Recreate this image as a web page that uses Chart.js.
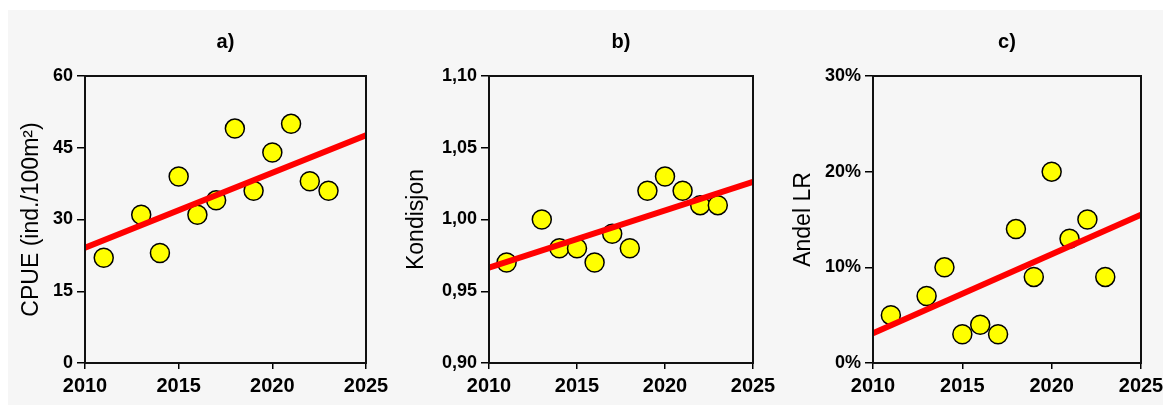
<!DOCTYPE html>
<html>
<head>
<meta charset="utf-8">
<script src="https://cdn.jsdelivr.net/npm/chart.js@4"></script>
<style>
    body { margin: 0; background: #ffffff; }
    #panel { position: absolute; left: 8px; top: 10px; width: 1155px; height: 395px; background: #f6f6f6; }
    #panel canvas { position: absolute; left: 0; top: 0; }
</style>
</head>
<body>
<div id="panel">
    <canvas id="graficaA" width="1155" height="395"></canvas>
    <canvas id="graficaB" width="1155" height="395"></canvas>
    <canvas id="graficaC" width="1155" height="395"></canvas>
</div>
<script>
const years = [2011, 2013, 2014, 2015, 2016, 2017, 2018, 2019, 2020, 2021, 2022, 2023];
const cpue = [22, 31, 23, 39, 31, 34, 49, 36, 44, 50, 38, 36];
const kondisjon = [0.97, 1.00, 0.98, 0.98, 0.97, 0.99, 0.98, 1.02, 1.03, 1.02, 1.01, 1.01];
const andelLR = [5, 7, 10, 3, 4, 3, 14, 9, 20, 13, 15, 9];

const trendYears = [2010, 2025];
const cpueTrend = [24.1, 47.6];
const kondisjonTrend = [0.9665, 1.0263];
const andelTrend = [3.1, 15.5];

const xTicks = [2010, 2015, 2020, 2025];

const fontFamily = "'Liberation Sans', Arial, sans-serif";

// draws the a), b), c) title and the box around the plot
const boxPlugin = {
    id: 'boxPlugin',
    afterDraw(chart, args, opts) {
        const ctx = chart.ctx;
        const area = chart.chartArea;
        ctx.save();
        ctx.strokeStyle = '#111';
        ctx.lineWidth = 2;
        ctx.strokeRect(area.left, area.top, area.right - area.left, area.bottom - area.top);
        ctx.fillStyle = '#000';
        ctx.font = 'bold 20px ' + fontFamily;
        ctx.textAlign = 'center';
        ctx.textBaseline = 'middle';
        ctx.fillText(opts.text, (area.left + area.right) / 2, 32);
        ctx.restore();
    }
};

function toPoints(xs, ys) {
    return xs.map((x, i) => ({ x: x, y: ys[i] }));
}

function crearGrafica(id, cfg) {
    const ctx = document.getElementById(id).getContext('2d');
    return new Chart(ctx, {
        type: 'scatter',
        data: {
            datasets: [{
                type: 'line',
                data: toPoints(trendYears, cfg.trend),
                borderColor: '#ff0000',
                borderWidth: 6,
                pointRadius: 0,
                order: 0
            }, {
                data: toPoints(years, cfg.values),
                backgroundColor: '#ffff00',
                borderColor: '#000',
                borderWidth: 1.5,
                pointRadius: 9.5,
                order: 1
            }]
        },
        options: {
            responsive: false,
            animation: false,
            layout: { padding: { left: cfg.left, right: cfg.right, top: 66, bottom: 0 } },
            plugins: {
                legend: { display: false },
                tooltip: { enabled: false },
                boxPlugin: { text: cfg.title }
            },
            scales: {
                x: {
                    type: 'linear',
                    min: 2010,
                    max: 2025,
                    afterBuildTicks: (scale) => { scale.ticks = xTicks.map(v => ({ value: v })); },
                    afterFit: (scale) => { scale.height = 42; scale.paddingLeft = 0; scale.paddingRight = 0; },
                    grid: { drawOnChartArea: false, color: '#000', tickLength: 6, lineWidth: 1.5 },
                    border: { color: '#111', width: 2 },
                    ticks: {
                        color: '#000',
                        padding: 5,
                        maxRotation: 0,
                        font: { family: fontFamily, size: 20, weight: 'bold' },
                        callback: (v) => String(v)
                    }
                },
                y: {
                    min: cfg.min,
                    max: cfg.max,
                    afterFit: (scale) => { scale.width = cfg.axisWidth; },
                    grid: { drawOnChartArea: false, color: '#000', tickLength: 8, lineWidth: 1.5 },
                    border: { color: '#111', width: 2 },
                    ticks: {
                        stepSize: cfg.step,
                        color: '#000',
                        padding: 4,
                        font: { family: fontFamily, size: 18, weight: 'bold' },
                        callback: cfg.format
                    },
                    title: {
                        display: true,
                        text: cfg.label,
                        color: '#000',
                        padding: { top: cfg.titlePad, bottom: 0 },
                        font: { family: fontFamily, size: 23 }
                    }
                }
            }
        },
        plugins: [boxPlugin]
    });
}

crearGrafica('graficaA', {
    title: 'a)', values: cpue, trend: cpueTrend,
    min: 0, max: 60, step: 15, label: 'CPUE (ind./100m²)',
    format: (v) => String(v),
    left: 0, axisWidth: 77, titlePad: 10, right: 797
});

crearGrafica('graficaB', {
    title: 'b)', values: kondisjon, trend: kondisjonTrend,
    min: 0.9, max: 1.1, step: 0.05, label: 'Kondisjon',
    format: (v) => v.toFixed(2).replace('.', ','),
    left: 372, axisWidth: 109, titlePad: 23, right: 410
});

crearGrafica('graficaC', {
    title: 'c)', values: andelLR, trend: andelTrend,
    min: 0, max: 30, step: 10, label: 'Andel LR',
    format: (v) => v + '%',
    left: 762, axisWidth: 103, titlePad: 20, right: 22
});
</script>
</body>
</html>
